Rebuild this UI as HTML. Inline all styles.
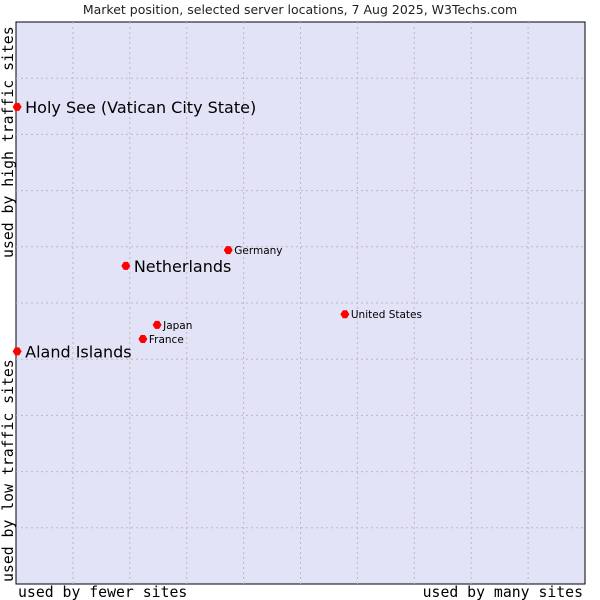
<!DOCTYPE html>
<html><head><meta charset="utf-8"><style>
body{margin:0;background:#fff;width:600px;height:600px;overflow:hidden}
svg{display:block}
</style></head><body>
<svg id="chart" width="600" height="600" xmlns="http://www.w3.org/2000/svg">
<text x="300" y="14" text-anchor="middle" font-family="DejaVu Sans, sans-serif" font-size="12.5" fill="#222">Market position, selected server locations, 7 Aug 2025, W3Techs.com</text>
<rect x="16" y="22" width="569" height="562" fill="#e3e3f8" stroke="#000" stroke-width="1"/>
<g id="grid"></g>
<g id="points"></g>
<text x="18" y="597" font-family="DejaVu Sans Mono, monospace" font-size="14.8" fill="#000">used by fewer sites</text>
<text x="583" y="597" text-anchor="end" font-family="DejaVu Sans Mono, monospace" font-size="14.8" fill="#000">used by many sites</text>
<text transform="translate(13,582) rotate(-90)" font-family="DejaVu Sans Mono, monospace" font-size="14.8" fill="#000">used by low traffic sites</text>
<text transform="translate(13,258) rotate(-90)" font-family="DejaVu Sans Mono, monospace" font-size="14.8" fill="#000">used by high traffic sites</text>
</svg>
<script>
const names = ["Holy See (Vatican City State)","Netherlands","Germany","United States","Japan","France","Aland Islands"];
const xValues = [0.2,19.3,37.3,57.8,24.8,22.3,0.2];
const yValues = [84.9,56.6,59.4,48.0,46.1,43.6,41.4];
const large = [true,true,false,false,false,false,true];
const L=16,T=22,W=569,H=562;
const sx=v=>L+v/100*W, sy=v=>T+H-v/100*H;
const NS="http://www.w3.org/2000/svg";
const grid=document.getElementById('grid');
for(let i=1;i<10;i++){
  const lv=document.createElementNS(NS,'line');
  lv.setAttribute('x1',sx(i*10));lv.setAttribute('x2',sx(i*10));lv.setAttribute('y1',T);lv.setAttribute('y2',T+H);
  lv.setAttribute('stroke','#bbb');lv.setAttribute('stroke-dasharray','2,3');
  
  
  grid.appendChild(lv);
  const lh=document.createElementNS(NS,'line');
  lh.setAttribute('y1',sy(i*10));lh.setAttribute('y2',sy(i*10));lh.setAttribute('x1',L);lh.setAttribute('x2',L+W);
  lh.setAttribute('stroke','#bbb');lh.setAttribute('stroke-dasharray','2,3');
  
  
  grid.appendChild(lh);
}
const pts=document.getElementById('points');
names.forEach((n,i)=>{
  const x=sx(xValues[i]),y=sy(yValues[i]);
  const d=document.createElementNS(NS,'path');
  d.setAttribute('d',`M${x-4.5},${y} L${x-2},${y-4} L${x+2},${y-4} L${x+4.5},${y} L${x+2},${y+4} L${x-2},${y+4} Z`);
  d.setAttribute('fill','#f00');
  
  
  pts.appendChild(d);
  const t=document.createElementNS(NS,'text');
  t.setAttribute('x',x+(large[i]?8:6));t.setAttribute('y',y+(large[i]?6:4));
  t.setAttribute('font-family','DejaVu Sans, sans-serif');
  t.setAttribute('font-size',large[i]?'16':'10.5');
  t.setAttribute('fill','#000');
  t.textContent=n;
  
  
  pts.appendChild(t);
});
</script>
</body></html>
